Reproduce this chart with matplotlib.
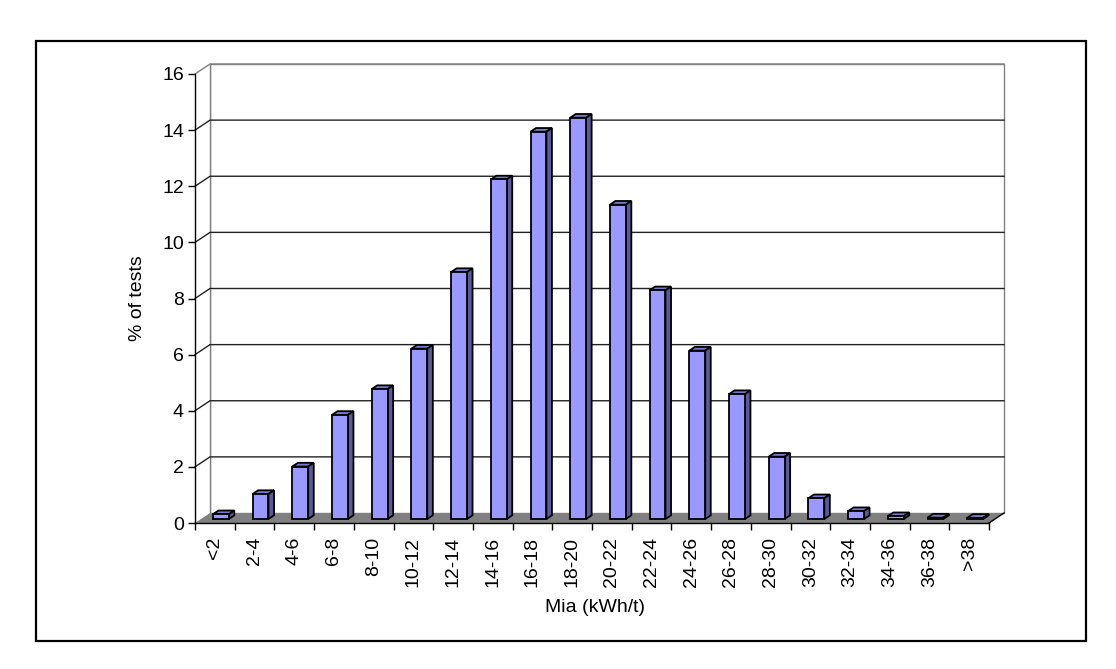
import numpy as np
import matplotlib
matplotlib.use("Agg")
import matplotlib.pyplot as plt
from matplotlib.patches import Polygon, Rectangle

plt.rcParams['font.family'] = ['Liberation Sans', 'DejaVu Sans']

# data
categories = ['<2', '2-4', '4-6', '6-8', '8-10', '10-12', '12-14', '14-16', '16-18',
              '18-20', '20-22', '22-24', '24-26', '26-28', '28-30', '30-32', '32-34',
              '34-36', '36-38', '>38']
percent_tests = [0.17, 0.89, 1.87, 3.71, 4.63, 6.07, 8.8, 12.1, 13.8, 14.3,
                 11.2, 8.15, 6.0, 4.45, 2.22, 0.74, 0.28, 0.1, 0.05, 0.04]
y_ticks = [0, 2, 4, 6, 8, 10, 12, 14, 16]

W, H = 1116, 669
fig = plt.figure(figsize=(W / 100, H / 100), dpi=100)

# plot area in pixels (front plane)
left_px, right_px, bottom_px, top_px = 195, 989, 523, 74
ax = fig.add_axes([left_px / W, (H - bottom_px) / H,
                   (right_px - left_px) / W, (bottom_px - top_px) / H])
n = len(categories)
ymax = 16
ax.set_xlim(0, n)
ax.set_ylim(0, ymax)

# 3d depth offset (15 px right, 10 px up) in data units
dxd = 15 * n / (right_px - left_px)
dyd = 10 * ymax / (bottom_px - top_px)

# walls and floor
back = Rectangle((dxd, dyd), n, ymax, facecolor='white', edgecolor='#808080',
                 lw=1, clip_on=False, zorder=1)
ax.add_patch(back)
side = Polygon([(0, 0), (dxd, dyd), (dxd, ymax + dyd), (0, ymax)], closed=True,
               facecolor='white', edgecolor='none', clip_on=False, zorder=1)
ax.add_patch(side)
floor = Polygon([(0, 0), (n, 0), (n + dxd, dyd), (dxd, dyd)], closed=True,
                facecolor='#808080', edgecolor='none', clip_on=False, zorder=2)
ax.add_patch(floor)
ax.plot([n, n + dxd], [0, dyd], color='black', lw=1, clip_on=False, zorder=3)
ax.plot([dxd, dxd], [dyd, ymax + dyd], color='#808080', lw=1, clip_on=False, zorder=2)

# gridlines
for v in y_ticks[1:]:
    c = '#808080' if v == ymax else '#222222'
    ax.plot([0, dxd, n + dxd], [v, v + dyd, v + dyd], color=c, lw=1,
            clip_on=False, zorder=2)

# bars
w = 0.4
f0 = 0.4   # depth of front face
bd = 0.37  # bar depth
x = np.arange(n) + 0.5 + f0 * dxd
ax.bar(x, percent_tests, width=w, bottom=f0 * dyd, color='#9999FF',
       edgecolor='black', lw=1.3, zorder=5, clip_on=False)
for xi, v in zip(x, percent_tests):
    x0 = xi - w / 2
    y0 = f0 * dyd
    top = Polygon([(x0, y0 + v), (x0 + w, y0 + v),
                   (x0 + w + bd * dxd, y0 + v + bd * dyd),
                   (x0 + bd * dxd, y0 + v + bd * dyd)], closed=True,
                  facecolor='#7A7ACC', edgecolor='black', lw=1.3, zorder=4, clip_on=False)
    sd = Polygon([(x0 + w, y0), (x0 + w + bd * dxd, y0 + bd * dyd),
                  (x0 + w + bd * dxd, y0 + v + bd * dyd), (x0 + w, y0 + v)], closed=True,
                 facecolor='#5A5A99', edgecolor='black', lw=1.3, zorder=4, clip_on=False)
    ax.add_patch(top)
    ax.add_patch(sd)

# axes styling
for s in ['top', 'right']:
    ax.spines[s].set_visible(False)
for s in ['left', 'bottom']:
    ax.spines[s].set_color('black')
    ax.spines[s].set_linewidth(1)
    ax.spines[s].set_zorder(6)
ax.patch.set_visible(False)

ax.set_yticks(y_ticks)
ax.tick_params(axis='y', direction='out', length=5, width=1, labelsize=14, pad=3)
ax.set_xticks(np.arange(n + 1))
ax.set_xticklabels([])
ax.set_xticks(np.arange(n) + 0.5, minor=True)
ax.set_xticklabels(categories, minor=True, rotation=90, fontsize=14)
ax.tick_params(axis='x', which='major', direction='out', length=5, width=1)
ax.tick_params(axis='x', which='minor', length=0, pad=10)

ax.set_xlabel('Mia (kWh/t)', fontsize=14, va='center')
ax.set_ylabel('% of tests', fontsize=14, va='center')
ax.xaxis.set_label_coords((595 - left_px) / (right_px - left_px),
                          (bottom_px - 607) / (bottom_px - top_px))
ax.yaxis.set_label_coords((137 - left_px) / (right_px - left_px), 0.5)

# outer frame
frame = Rectangle((36 / W, (H - 641) / H), (1086 - 36) / W, (641 - 41) / H,
                  transform=fig.transFigure, fill=False, edgecolor='black', lw=1.6)
fig.add_artist(frame)

fig.savefig('out.png', dpi=100, facecolor='white')
